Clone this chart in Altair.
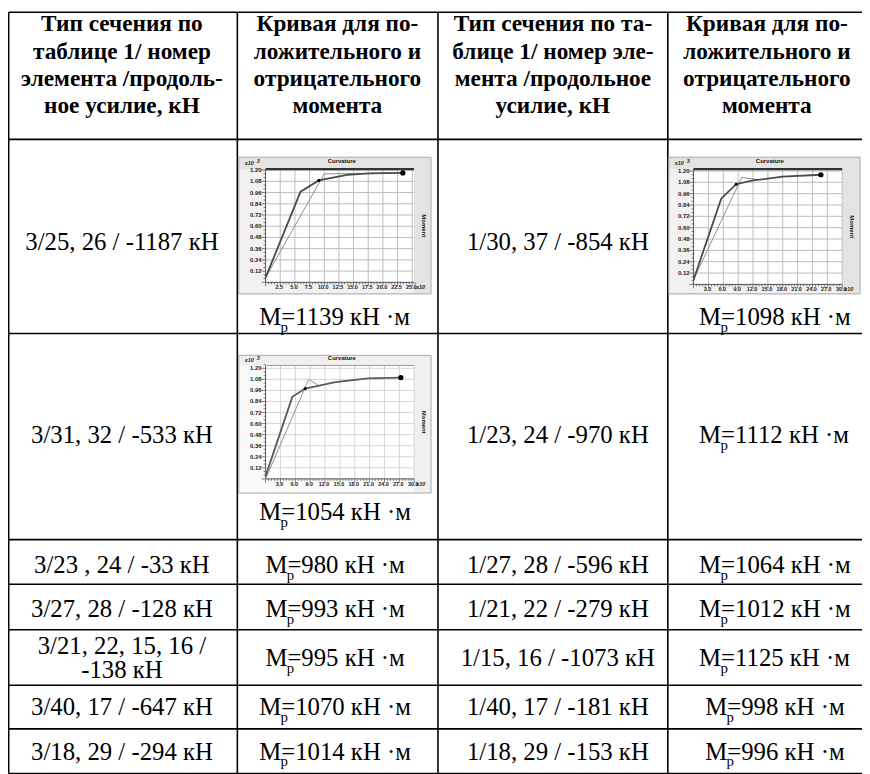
import altair as alt
import pandas as pd

# ---------------- data ----------------
header_c1 = ["Тип сечения по", "таблице 1/ номер", "элемента /продоль-", "ное усилие, кН"]
header_c2 = ["Кривая для по-", "ложительного и", "отрицательного", "момента"]
header_c3 = ["Тип сечения по та-", "блице 1/ номер эле-", "мента /продольное", "усилие, кН"]
header_c4 = ["Кривая для по-", "ложительного и", "отрицательного", "момента"]

left_sections = ["3/25, 26 / -1187 кН", "3/31, 32 / -533 кН", "3/23 , 24 / -33 кН",
                 "3/27, 28 / -128 кН", ["3/21, 22, 15, 16 /", "-138 кН"],
                 "3/40, 17 / -647 кН", "3/18, 29 / -294 кН"]
left_moments = [1139, 1054, 980, 993, 995, 1070, 1014]
right_sections = ["1/30, 37 / -854 кН", "1/23, 24 / -970 кН", "1/27, 28 / -596 кН",
                  "1/21, 22 / -279 кН", "1/15, 16 / -1073 кН", "1/40, 17 / -181 кН",
                  "1/18, 29 / -153 кН"]
right_moments = [1098, 1112, 1064, 1012, 1125, 998, 996]

# mini chart curves (curvature x10^-3, moment x10^3)
ch1_dark_c = [0, 5.96, 9.07, 13.9, 17.8, 23.4]
ch1_dark_m = [0.05, 0.97, 1.09, 1.15, 1.165, 1.17]
ch1_light_c = [0, 10.0, 16.0, 23.4]
ch1_light_m = [0.05, 1.16, 1.165, 1.17]

ch2_dark_c = [0, 5.6, 8.6, 12.0, 18.0, 25.7]
ch2_dark_m = [0.05, 0.91, 1.06, 1.10, 1.14, 1.16]
ch2_light_c = [0, 9.7, 13.0]
ch2_light_m = [0.05, 1.13, 1.11]

ch3_dark_c = [0, 5.4, 8.0, 14.1, 20.7, 27.3]
ch3_dark_m = [0.03, 0.89, 0.98, 1.05, 1.09, 1.10]
ch3_light_c = [0, 8.7, 10.5]
ch3_light_m = [0.0, 1.08, 1.02]

x_ticks_25 = [2.5, 5.0, 7.5, 10.0, 12.5, 15.0, 17.5, 20.0, 22.5, 25.0]
x_ticks_30 = [3.0, 6.0, 9.0, 12.0, 15.0, 18.0, 21.0, 24.0, 27.0, 30.0]
y_ticks = [0.12, 0.24, 0.36, 0.48, 0.60, 0.72, 0.84, 0.96, 1.08, 1.20]

# ---------------- layout ----------------
W, H = 862, 766
TX = alt.Scale(domain=[8, 870], range=[0, 862], nice=False, zero=False)
TY = alt.Scale(domain=[8, 774], range=[0, 766], nice=False, zero=False)
col_lines = [8.7, 239.5, 442, 674]
row_lines = [8.7, 137, 333, 541, 586, 632, 688, 732, 777]
hdr_cx = [123, 340.5, 558, 774]
hdr_base = [28, 55.5, 83, 110.5]
row_cy = [240, 435, 566.5, 611, 660, 710, 754.5]
SERIF = "Liberation Serif"
SANS = "Liberation Sans"
BODY = 25

layers = []


def tX(f="x:Q"):
    return alt.X(f, scale=TX, axis=None)


def tY(f="y:Q"):
    return alt.Y(f, scale=TY, axis=None)


# table grid
vdf = pd.DataFrame({"x": col_lines, "y": [8.7] * 4, "y2": [777] * 4})
layers.append(alt.Chart(vdf).mark_rule(color="black", strokeWidth=1.6).encode(
    x=tX(), y=tY(), y2="y2:Q"))
hdf = pd.DataFrame({"x": [8.7] * len(row_lines), "x2": [880] * len(row_lines), "y": row_lines})
layers.append(alt.Chart(hdf).mark_rule(color="black", strokeWidth=1.6).encode(
    x=tX(), x2="x2:Q", y=tY()))

# header text
hrows = []
for cx, lines in zip(hdr_cx, [header_c1, header_c2, header_c3, header_c4]):
    for b, t in zip(hdr_base, lines):
        hrows.append({"x": cx, "y": b, "t": t})
layers.append(alt.Chart(pd.DataFrame(hrows)).mark_text(
    font=SERIF, fontSize=23.5, fontWeight="bold", align="center", baseline="alphabetic",
    color="black").encode(x=tX(), y=tY(), text="t:N"))

# body text (section labels)
brows = []
for cy, s in zip(row_cy, left_sections):
    if isinstance(s, list):
        brows.append({"x": 123, "y": cy - 12.5 + 8.5, "t": s[0]})
        brows.append({"x": 123, "y": cy + 12.5 + 8.5, "t": s[1]})
    else:
        brows.append({"x": 123, "y": cy + 8.5, "t": s})
for cy, s in zip(row_cy, right_sections):
    brows.append({"x": 563, "y": cy + 8.5, "t": s})
layers.append(alt.Chart(pd.DataFrame(brows)).mark_text(
    font=SERIF, fontSize=BODY, align="center", baseline="alphabetic", color="black").encode(
    x=tX(), y=tY(), text="t:N"))

# moment labels M_p
CW = {"M": 0.889, "=": 0.564, " ": 0.25, "к": 0.49, "Н": 0.722, "·": 0.25, "м": 0.62}


def est_w(s):
    return sum(CW.get(ch, 0.5) for ch in s) * BODY


mp_y_left = [316] + row_cy[1:]
mp_y_left[1] = 513
mp_y_right = [316] + row_cy[1:]
main_rows, sub_rows = [], []
for cx, ys, vals in [(337, mp_y_left, left_moments), (781, mp_y_right, right_moments)]:
    for cy, v in zip(ys, vals):
        s = f"M={v} кН ·м"
        x0 = cx - est_w(s) / 2
        main_rows.append({"x": x0, "y": cy + 8.5, "t": s})
        sub_rows.append({"x": x0 + 21.5, "y": cy + 15.5, "t": "p"})
layers.append(alt.Chart(pd.DataFrame(main_rows)).mark_text(
    font=SERIF, fontSize=BODY, align="left", baseline="alphabetic", color="black").encode(
    x=tX(), y=tY(), text="t:N"))
layers.append(alt.Chart(pd.DataFrame(sub_rows)).mark_text(
    font=SERIF, fontSize=15, align="left", baseline="alphabetic", color="black").encode(
    x=tX(), y=tY(), text="t:N"))


# ---------------- mini charts ----------------
def mini(cfg):
    L = []
    px0, px1 = cfg["px"]
    pyb, pyt = cfg["py"]
    xmax, ytop = cfg["xmax"], cfg["ytop"]
    xs = alt.Scale(domain=[0, xmax], range=[px0 - 8, px1 - 8], nice=False, zero=False)
    ys = alt.Scale(domain=[0, ytop], range=[pyb - 8, pyt - 8], nice=False, zero=False)
    kx = (px1 - px0) / xmax
    ky = (pyb - pyt) / ytop

    def mX(f="x:Q"):
        return alt.X(f, scale=xs, axis=None)

    def mY(f="y:Q"):
        return alt.Y(f, scale=ys, axis=None)

    p0, p1, q0, q1 = cfg["panel"]
    # panel backgrounds (table coordinates)
    L.append(alt.Chart(pd.DataFrame({"x": [p0], "x2": [p1], "y": [q0], "y2": [q1]})).mark_rect(
        fill=cfg["bg"], stroke="#a9a9a9", strokeWidth=1).encode(
        x=tX(), x2="x2:Q", y=tY(), y2="y2:Q"))
    L.append(alt.Chart(pd.DataFrame({"x": [p0 + 1], "x2": [px1], "y": [pyt], "y2": [q1 - 1]})).mark_rect(
        fill=cfg["bg2"]).encode(x=tX(), x2="x2:Q", y=tY(), y2="y2:Q"))
    # plot area
    L.append(alt.Chart(pd.DataFrame({"x": [0], "x2": [xmax], "y": [0], "y2": [ytop]})).mark_rect(
        fill="white").encode(x=mX(), x2="x2:Q", y=mY(), y2="y2:Q"))
    # grid
    gx = pd.DataFrame({"x": cfg["xt"], "y": [0] * len(cfg["xt"]), "y2": [ytop] * len(cfg["xt"])})
    L.append(alt.Chart(gx).mark_rule(color=cfg["grid"], strokeWidth=1).encode(
        x=mX(), y=mY(), y2="y2:Q"))
    gy = pd.DataFrame({"y": y_ticks, "x": [0] * len(y_ticks), "x2": [xmax] * len(y_ticks)})
    L.append(alt.Chart(gy).mark_rule(color=cfg["grid"], strokeWidth=1).encode(
        x=mX(), x2="x2:Q", y=mY()))
    # axis lines
    L.append(alt.Chart(pd.DataFrame({"x": [0, 0], "x2": [0, xmax], "y": [0, 0], "y2": [ytop, 0]})).mark_rule(
        color="#555555", strokeWidth=1).encode(x=mX(), x2="x2:Q", y=mY(), y2="y2:Q"))
    # minor ticks
    ny = int(round(ytop / 0.04))
    yt_minor = [round(0.04 * i, 2) for i in range(ny + 1)]
    tl = [(4 if abs(v / 0.12 - round(v / 0.12)) < 1e-6 else 2) / kx for v in yt_minor]
    L.append(alt.Chart(pd.DataFrame({"y": yt_minor, "x": [-t for t in tl], "x2": [0] * len(tl)})).mark_rule(
        color="#444444", strokeWidth=0.7).encode(x=mX(), x2="x2:Q", y=mY()))
    step = cfg["xt"][0] / 5
    nx = int(round(xmax / step))
    xt_minor = [round(step * i, 3) for i in range(nx + 1)]
    tlx = [(4 if i % 5 == 0 else 2) / ky for i in range(nx + 1)]
    L.append(alt.Chart(pd.DataFrame({"x": xt_minor, "y": [-t for t in tlx], "y2": [0] * len(tlx)})).mark_rule(
        color="#444444", strokeWidth=0.7).encode(x=mX(), y=mY(), y2="y2:Q"))
    # top frame line
    L.append(alt.Chart(pd.DataFrame({"x": [0], "x2": [xmax], "y": [ytop]})).mark_rule(
        color=cfg["topc"], strokeWidth=cfg["topw"]).encode(x=mX(), x2="x2:Q", y=mY()))
    # tick labels
    yl = pd.DataFrame({"y": y_ticks, "x": [0] * 10, "t": [f"{v:.2f}" for v in y_ticks]})
    L.append(alt.Chart(yl).mark_text(font=SANS, fontSize=6, fontWeight="bold", align="right",
                                      baseline="middle", dx=-4, color="#222222").encode(
        x=mX(), y=mY(), text="t:N"))
    xl = pd.DataFrame({"x": cfg["xt"], "y": [0] * 10, "t": [f"{v:.1f}" for v in cfg["xt"]]})
    L.append(alt.Chart(xl).mark_text(font=SANS, fontSize=5.5, fontWeight="bold", align="center",
                                      baseline="top", dy=3, dx=-1, color="#222222").encode(
        x=mX(), y=mY(), text="t:N"))
    # captions
    cap = pd.DataFrame([
        {"x": p0 + 6, "y": pyt - 6, "t": "x10"},
        {"x": px1 + 2, "y": pyb + 5, "t": "x10"},
    ])
    L.append(alt.Chart(cap).mark_text(font=SANS, fontSize=5.5, fontWeight="bold", fontStyle="italic",
                                       align="left", baseline="middle", color="#222222").encode(
        x=tX(), y=tY(), text="t:N"))
    sup = pd.DataFrame([{"x": p0 + 18, "y": pyt - 8, "t": "3"}])
    L.append(alt.Chart(sup).mark_text(font=SANS, fontSize=5.5, fontWeight="bold", fontStyle="italic",
                                       align="left", baseline="middle", color="#222222").encode(
        x=tX(), y=tY(), text="t:N"))
    L.append(alt.Chart(pd.DataFrame([{"x": (px0 + px1) / 2 + 2, "y": pyt - 8, "t": "Curvature"}])).mark_text(
        font=SANS, fontSize=6, fontWeight="bold", align="center", baseline="middle",
        color="#111111").encode(x=tX(), y=tY(), text="t:N"))
    L.append(alt.Chart(pd.DataFrame([{"x": (px1 + p1) / 2 + 1, "y": (pyt + pyb) / 2, "t": "Moment"}])).mark_text(
        font=SANS, fontSize=6, fontWeight="bold", align="center", baseline="middle", angle=90,
        color="#111111").encode(x=tX(), y=tY(), text="t:N"))
    # curves
    light = pd.DataFrame({"x": cfg["lc"], "y": cfg["lm"], "i": range(len(cfg["lc"]))})
    L.append(alt.Chart(light).mark_line(color="#8f8f8f", strokeWidth=1).encode(
        x=mX(), y=mY(), order="i:Q"))
    dark = pd.DataFrame({"x": cfg["dc"], "y": cfg["dm"], "i": range(len(cfg["dc"]))})
    L.append(alt.Chart(dark).mark_line(color=cfg["darkc"], strokeWidth=1.8).encode(
        x=mX(), y=mY(), order="i:Q"))
    knee = dark.iloc[[2]]
    end = dark.iloc[[len(dark) - 1]]
    L.append(alt.Chart(knee).mark_point(filled=True, color="black", size=10, opacity=1).encode(
        x=mX(), y=mY()))
    L.append(alt.Chart(end).mark_point(filled=True, color="black", size=28, opacity=1).encode(
        x=mX(), y=mY()))
    return L


cfg1 = dict(panel=(241, 435, 155, 293), px=(268, 417.8), py=(281.3, 167.1), xmax=25.3, ytop=1.21,
            xt=x_ticks_25, dc=ch1_dark_c, dm=ch1_dark_m, lc=ch1_light_c, lm=ch1_light_m,
            bg="#e3e3e3", bg2="#f1f1f1", grid="#bcbcbc", topc="#333333", topw=2.2, darkc="#4a4a4a")
cfg2 = dict(panel=(675, 868, 155, 293), px=(700, 850), py=(283.4, 167.0), xmax=30, ytop=1.22,
            xt=x_ticks_30, dc=ch2_dark_c, dm=ch2_dark_m, lc=ch2_light_c, lm=ch2_light_m,
            bg="#e3e3e3", bg2="#f1f1f1", grid="#bcbcbc", topc="#333333", topw=2.2, darkc="#4a4a4a")
cfg3 = dict(panel=(241, 435, 355, 494), px=(268, 418), py=(479.7, 365.3), xmax=30, ytop=1.23,
            xt=x_ticks_30, dc=ch3_dark_c, dm=ch3_dark_m, lc=ch3_light_c, lm=ch3_light_m,
            bg="#efefef", bg2="#fafafa", grid="#d6d6d6", topc="#9a9a9a", topw=1, darkc="#5a5a5a")

for c in (cfg1, cfg2, cfg3):
    layers.extend(mini(c))

chart = alt.layer(*layers).resolve_scale(x="independent", y="independent").properties(
    width=W, height=H, padding=0, autosize=alt.AutoSizeParams(type="none"),
    background="white").configure_view(stroke=None)

chart.save("out.html", embed_options={"renderer": "svg", "actions": False})
